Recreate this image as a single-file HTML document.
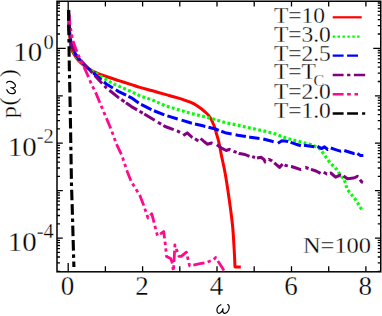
<!DOCTYPE html>
<html><head><meta charset="utf-8"><style>
html,body{margin:0;padding:0;background:#fff;overflow:hidden;}
svg{display:block;font-family:"Liberation Serif",serif;}
text{stroke:#fff;stroke-width:0.3px;}
</style></head><body>
<svg width="382" height="316" viewBox="0 0 382 316">
<rect x="0" y="0" width="382" height="316" fill="#fff"/>
<path d="M68.60,10.00 C68.72,13.33 68.88,23.73 69.30,30.00 C69.72,36.27 69.97,43.00 71.10,47.60 C72.23,52.20 74.02,54.67 76.10,57.60 C78.18,60.53 80.67,62.88 83.60,65.20 C86.53,67.52 89.92,69.62 93.70,71.50 C97.48,73.38 102.12,74.98 106.30,76.50 C110.48,78.02 114.62,79.25 118.80,80.60 C122.98,81.95 127.87,83.47 131.40,84.60 C134.93,85.73 136.47,86.37 140.00,87.40 C143.53,88.43 148.42,89.63 152.60,90.80 C156.78,91.97 160.92,93.22 165.10,94.40 C169.28,95.58 173.50,96.60 177.70,97.90 C181.90,99.20 186.95,100.82 190.30,102.20 C193.65,103.58 195.35,104.60 197.80,106.20 C200.25,107.80 202.97,109.97 205.00,111.80 C207.03,113.63 208.50,114.92 210.00,117.20 C211.50,119.48 212.93,122.78 214.00,125.50 C215.07,128.22 215.58,130.70 216.40,133.50 C217.22,136.30 218.07,138.67 218.90,142.30 C219.73,145.93 220.37,150.18 221.40,155.30 C222.43,160.42 223.85,166.02 225.10,173.00 C226.35,179.98 227.67,188.53 228.90,197.20 C230.13,205.87 231.62,216.20 232.50,225.00 C233.38,233.80 233.78,243.00 234.20,250.00 C234.62,257.00 234.87,264.17 235.00,267.00 L240.8,267.0" fill="none" stroke="#ff0000" stroke-width="3.0" stroke-linejoin="round"/>
<path d="M68.60,10.00 L69.30,30.00 L71.50,47.00 L76.50,57.00 L83.60,64.50 L88.70,69.00 L100.00,76.00 L113.80,84.00 L131.40,91.60 L140.00,95.90 L152.00,99.80 L165.10,105.70 L190.30,113.20 L200.00,115.60 L212.60,118.80 L225.10,122.60 L237.70,125.10 L250.30,128.10 L262.80,130.70 L275.40,133.90 L286.00,138.10 L298.60,141.40 L311.10,144.60 L318.70,147.60 L323.70,153.90 L330.00,162.70 L336.30,169.00 L341.30,176.50 L344.00,178.60 L347.20,189.30 L355.80,200.00 L362.70,211.20" fill="none" stroke="#00ff00" stroke-width="3.2" stroke-dasharray="2.8 2.45" stroke-linejoin="round"/>
<path d="M68.60,10.00 L69.30,30.00 L71.50,46.00 L76.50,56.00 L83.60,64.00 L90.00,70.00 L98.00,77.00 L106.30,84.00 L114.50,88.99" fill="none" stroke="#0000ff" stroke-width="3.0" stroke-dasharray="10.8 3.4" stroke-dashoffset="14.18" stroke-linejoin="round"/>
<path d="M115.80,89.78 L118.80,91.60 L126.10,95.19 M128.40,96.32 L131.40,97.80 L138.70,102.98 M141.10,104.45 L151.40,109.60 M154.00,110.76 L164.30,114.88 M167.40,115.89 L177.70,119.00 L177.70,119.00 M181.60,120.18 L190.30,122.80 L191.90,123.18 M195.00,123.93 L202.80,125.80 L205.30,126.43 M208.50,127.25 L215.40,129.00 L218.80,130.30 M221.30,131.25 L225.10,132.70 L231.60,133.99 M235.60,134.78 L237.70,135.20 L245.90,136.50 M249.20,137.03 L250.30,137.20 L259.50,138.45 M263.30,139.03 L272.00,141.30 L273.60,141.67 M277.90,143.20 L281.90,140.80 L286.60,141.20 L288.20,141.64 M290.60,142.30 L296.00,144.20 L300.90,145.80 L300.90,145.80 M304.00,145.30 L309.00,146.00 L314.30,146.80 M317.50,146.30 L321.50,148.60 L324.50,146.80 L327.70,149.50 L327.80,149.45 M330.80,148.00 L335.50,149.60 L340.30,151.20 L341.10,151.06 M344.30,150.50 L349.00,152.00 L353.80,153.50 L354.60,153.50 M357.40,153.50 L360.50,155.50 L363.30,155.50" fill="none" stroke="#0000ff" stroke-width="3.0" stroke-linejoin="round"/>
<path d="M68.60,10.00 L69.30,30.00 L71.50,45.00 L76.50,55.00 L83.60,63.50 L90.00,70.50 L98.00,79.00 L106.30,87.80 L107.50,88.76" fill="none" stroke="#830083" stroke-width="3.0" stroke-dasharray="10.8 3.4 3.2 3.4" stroke-dashoffset="9.35" stroke-linejoin="round"/>
<path d="M109.40,90.28 L118.80,97.80 L119.00,97.94 M121.30,99.55 L124.50,101.78 M126.00,102.83 L131.40,106.60 L137.10,109.85 M139.50,111.22 L140.00,111.50 L142.70,113.11 M144.30,114.06 L152.60,119.00 L154.70,120.26 M157.90,122.18 L161.10,124.10 M163.40,125.48 L165.10,126.50 L173.70,129.71 M176.90,130.90 L177.70,131.20 L180.00,132.40 M183.20,135.60 L187.20,132.90 L191.90,137.20 L192.50,137.51 M195.00,138.80 L198.30,141.00 M200.60,138.50 L204.00,141.50 L207.30,144.20 L211.50,143.00 L212.50,143.32 M216.80,144.70 L222.00,148.40 L226.20,150.50 L229.30,149.30 L230.40,149.81 M233.50,151.27 L234.00,151.50 L236.60,152.37 M238.70,153.25 L239.50,153.60 L245.00,154.50 L249.50,156.47 M252.20,156.57 L255.00,157.50 M257.00,158.00 L261.00,157.20 L264.00,159.50 L265.20,162.00 L265.50,161.78 M268.70,159.38 L268.80,159.30 L272.00,160.80 L272.20,160.98 M274.30,162.84 L274.70,163.20 L279.50,167.40 L282.60,163.91 M284.60,164.84 L285.80,165.50 L287.80,165.86 M291.00,166.43 L291.40,166.50 L296.00,168.00 L300.90,169.60 L301.00,169.56 M305.40,167.59 L305.60,167.50 L308.60,168.53 M311.00,169.27 L311.10,169.30 L316.00,171.00 L320.60,173.30 M323.70,172.20 L326.90,174.00 L327.00,173.97 M330.00,173.21 L330.80,173.00 L335.60,177.20 L340.30,175.10 L341.00,175.30 M343.50,176.00 L347.50,178.80 L353.80,178.00 L357.50,176.30 L358.00,176.96 M360.00,179.61 L361.80,182.00 L363.00,182.35" fill="none" stroke="#830083" stroke-width="3.0" stroke-linejoin="round"/>
<path d="M68.60,10.00 L70.00,25.00 L72.60,40.00 L75.70,48.40 L79.90,58.80 L84.10,67.20 L88.30,76.60 L91.40,84.00 L95.60,92.40 L100.80,104.90 L111.40,130.00 L116.30,143.80 L122.00,155.70 L127.20,171.40 L131.40,181.90 L139.70,195.00 L143.40,204.40 L148.00,218.00 L151.80,213.80 L157.50,235.80 L163.70,231.60 L165.30,244.20 L166.50,256.40 L170.70,258.50 L172.00,262.00 L173.50,271.00 L174.90,244.90 L179.00,256.40 L181.20,256.40 L186.40,252.20 L189.60,265.80 L200.00,263.70 L206.30,262.50 L213.60,259.60 L215.70,257.50 L221.00,265.80 L224.00,270.50" fill="none" stroke="#ff0a8c" stroke-width="2.8" stroke-dasharray="11.3 3.3 3.4 3.3 3.4 3.3" stroke-dashoffset="24.55" stroke-linejoin="round"/>
<path d="M68.50,10.3 L69.30,65 L70.20,108 L71.50,185 L72.30,210 L73.90,267" fill="none" stroke="#000" stroke-width="3.1" stroke-dasharray="10.5 3.9 10.6 3.7 3.5 3.7"/>
<rect x="57.0" y="1.25" width="323.75" height="270.55" fill="none" stroke="#000" stroke-width="1.5"/>
<path d="M68.2,271.8 v-8.8 M68.2,1.25 v9.3 M105.4,271.8 v-5.5 M105.4,1.25 v5.3 M142.6,271.8 v-5.5 M142.6,1.25 v5.3 M179.8,271.8 v-5.5 M179.8,1.25 v5.3 M217.0,271.8 v-5.5 M217.0,1.25 v5.3 M254.2,271.8 v-5.5 M254.2,1.25 v5.3 M291.5,271.8 v-5.5 M291.5,1.25 v5.3 M328.7,271.8 v-5.5 M328.7,1.25 v5.3 M365.9,271.8 v-5.5 M365.9,1.25 v5.3 M57.0,238.1 h5.8 M380.75,238.1 h-5.8 M57.0,223.8 h3.0 M380.75,223.8 h-3 M57.0,215.5 h3.0 M380.75,215.5 h-3 M57.0,209.5 h3.0 M380.75,209.5 h-3 M57.0,204.9 h3.0 M380.75,204.9 h-3 M57.0,201.2 h3.0 M380.75,201.2 h-3 M57.0,198.0 h3.0 M380.75,198.0 h-3 M57.0,195.2 h3.0 M380.75,195.2 h-3 M57.0,192.8 h3.0 M380.75,192.8 h-3 M57.0,190.7 h5.8 M380.75,190.7 h-5.8 M57.0,176.4 h3.0 M380.75,176.4 h-3 M57.0,168.0 h3.0 M380.75,168.0 h-3 M57.0,162.1 h3.0 M380.75,162.1 h-3 M57.0,157.5 h3.0 M380.75,157.5 h-3 M57.0,153.7 h3.0 M380.75,153.7 h-3 M57.0,150.6 h3.0 M380.75,150.6 h-3 M57.0,147.8 h3.0 M380.75,147.8 h-3 M57.0,145.4 h3.0 M380.75,145.4 h-3 M57.0,143.2 h5.8 M380.75,143.2 h-5.8 M57.0,128.9 h3.0 M380.75,128.9 h-3 M57.0,120.6 h3.0 M380.75,120.6 h-3 M57.0,114.6 h3.0 M380.75,114.6 h-3 M57.0,110.0 h3.0 M380.75,110.0 h-3 M57.0,106.3 h3.0 M380.75,106.3 h-3 M57.0,103.1 h3.0 M380.75,103.1 h-3 M57.0,100.3 h3.0 M380.75,100.3 h-3 M57.0,97.9 h3.0 M380.75,97.9 h-3 M57.0,95.8 h5.8 M380.75,95.8 h-5.8 M57.0,81.5 h3.0 M380.75,81.5 h-3 M57.0,73.1 h3.0 M380.75,73.1 h-3 M57.0,67.2 h3.0 M380.75,67.2 h-3 M57.0,62.6 h3.0 M380.75,62.6 h-3 M57.0,58.8 h3.0 M380.75,58.8 h-3 M57.0,55.7 h3.0 M380.75,55.7 h-3 M57.0,52.9 h3.0 M380.75,52.9 h-3 M57.0,50.5 h3.0 M380.75,50.5 h-3 M57.0,48.3 h8.7 M380.75,48.3 h-7.5 M57.0,34.0 h3.0 M380.75,34.0 h-3 M57.0,25.7 h3.0 M380.75,25.7 h-3 M57.0,19.7 h3.0 M380.75,19.7 h-3 M57.0,15.1 h3.0 M380.75,15.1 h-3 M57.0,11.4 h3.0 M380.75,11.4 h-3 M57.0,8.2 h3.0 M380.75,8.2 h-3 M57.0,5.4 h3.0 M380.75,5.4 h-3 M57.0,3.0 h3.0 M380.75,3.0 h-3 M57.0,271.3 h3.0 M380.75,271.3 h-3 M57.0,262.9 h3.0 M380.75,262.9 h-3 M57.0,257.0 h3.0 M380.75,257.0 h-3 M57.0,252.4 h3.0 M380.75,252.4 h-3 M57.0,248.6 h3.0 M380.75,248.6 h-3 M57.0,245.5 h3.0 M380.75,245.5 h-3 M57.0,242.7 h3.0 M380.75,242.7 h-3 M57.0,240.3 h3.0 M380.75,240.3 h-3" stroke="#000" stroke-width="1.3" fill="none"/>
<text x="67.6" y="295.3" font-size="27" text-anchor="middle">0</text>
<text x="142.0" y="295.3" font-size="27" text-anchor="middle">2</text>
<text x="216.4" y="295.3" font-size="27" text-anchor="middle">4</text>
<text x="290.9" y="295.3" font-size="27" text-anchor="middle">6</text>
<text x="365.3" y="295.3" font-size="27" text-anchor="middle">8</text>
<text transform="translate(42.15,60.9) scale(1.07,1)" font-size="27" text-anchor="end">10</text>
<text x="53.8" y="48.5" font-size="20.5" text-anchor="end">0</text>
<text transform="translate(36.65,155.8) scale(1.07,1)" font-size="27" text-anchor="end">10</text>
<text x="53.8" y="143.4" font-size="20.5" text-anchor="end">-2</text>
<text transform="translate(36.65,250.7) scale(1.07,1)" font-size="27" text-anchor="end">10</text>
<text x="53.8" y="238.3" font-size="20.5" text-anchor="end">-4</text>
<path transform="translate(216.4,313.7) scale(0.92)" d="M4.89,-9.79 C1.78,-8.45 0.18,-5.34 0.71,-2.67 C1.07,-0.71 2.67,0.00 4.00,-0.71 C5.78,-1.78 6.94,-4.00 7.30,-5.78 C6.76,-3.56 6.94,-0.89 8.72,-0.36 C10.85,0.00 13.52,-3.11 13.88,-6.23 C14.06,-8.01 13.35,-9.61 12.28,-9.96" fill="none" stroke="#000" stroke-width="1.3" stroke-linecap="round"/>
<text transform="translate(15.5,118.3) rotate(-90) scale(1.1,1)" font-size="22">p</text>
<text transform="translate(16.4,105.6) rotate(-90) scale(1,0.957)" font-size="24">(</text>
<path transform="translate(15.8,94.2) rotate(-90) scale(0.92)" d="M4.89,-9.79 C1.78,-8.45 0.18,-5.34 0.71,-2.67 C1.07,-0.71 2.67,0.00 4.00,-0.71 C5.78,-1.78 6.94,-4.00 7.30,-5.78 C6.76,-3.56 6.94,-0.89 8.72,-0.36 C10.85,0.00 13.52,-3.11 13.88,-6.23 C14.06,-8.01 13.35,-9.61 12.28,-9.96" fill="none" stroke="#000" stroke-width="1.3" stroke-linecap="round"/>
<text transform="translate(16.4,77.2) rotate(-90) scale(1,0.957)" font-size="24">)</text>
<text transform="translate(371.1,253.3) scale(1.02,1)" font-size="24" text-anchor="end">N=100</text>
<text x="273.9" y="22.9" font-size="23.5">T=10</text>
<path d="M332.7,17.3 H361.7" stroke="#ff0000" stroke-width="2.2" fill="none"/>
<text x="273.9" y="41.9" font-size="23.5">T=3.0</text>
<path d="M332.7,36.6 H335.1 M337.6,36.6 H340.0 M342.5,36.6 H344.9 M347.4,36.6 H349.8 M352.3,36.6 H354.7 M357.2,36.6 H359.6" stroke="#00ff00" stroke-width="2.3" fill="none"/>
<text x="273.9" y="60.9" font-size="23.5">T=2.5</text>
<path d="M332.7,55.6 H343.6 M347.1,55.6 H358.0" stroke="#0000ff" stroke-width="2.2" fill="none"/>
<text x="273.9" y="79.0" font-size="23.5">T=T<tspan font-size="16" dy="7.2" dx="-2.4">C</tspan></text>
<path d="M332.7,75.0 H343.6 M347.1,75.0 H350.4 M353.9,75.0 H365.2" stroke="#830083" stroke-width="2.3" fill="none"/>
<text x="273.9" y="98.5" font-size="23.5">T=2.0</text>
<path d="M332.7,94.2 H343.6 M347.1,94.2 H350.8 M354.5,94.2 H358.0" stroke="#ff0a8c" stroke-width="2.5" fill="none"/>
<text x="273.9" y="117.7" font-size="23.5">T=1.0</text>
<path d="M332.7,113.5 H343.6 M347.1,113.5 H358.0 M362.1,113.5 H365.2" stroke="#000000" stroke-width="2.6" fill="none"/>
</svg>
</body></html>
